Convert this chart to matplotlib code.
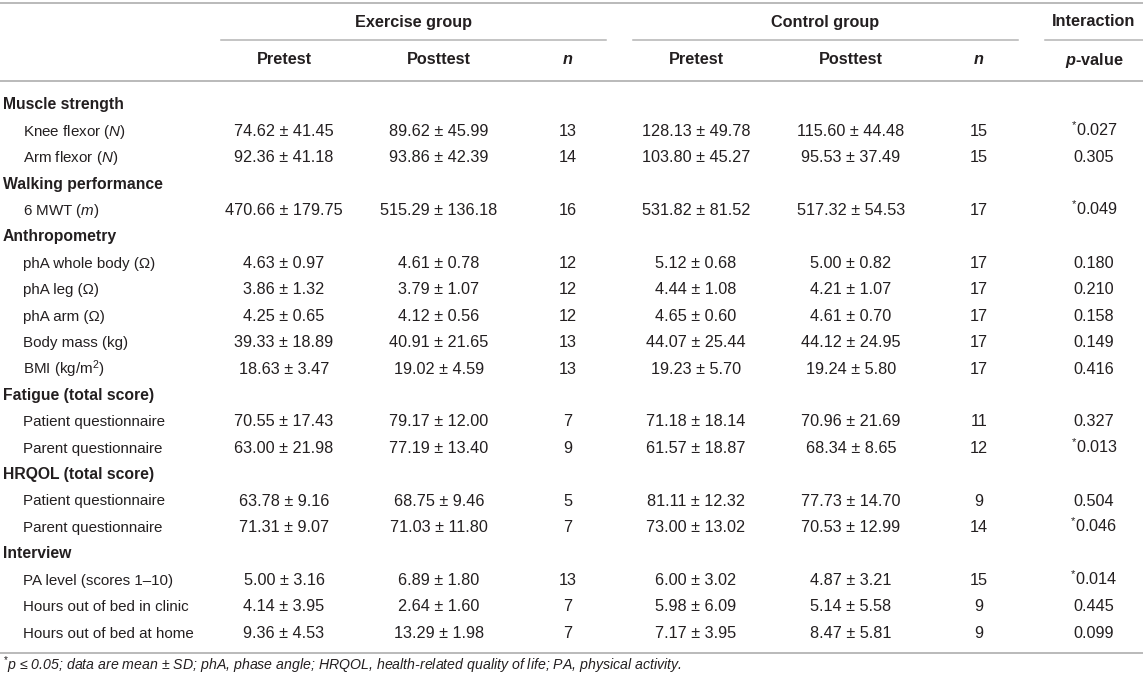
import matplotlib
matplotlib.use("Agg")
import matplotlib.pyplot as plt

# ============================
# Table Data
# ============================

sections = [
    "Muscle strength",
    "Walking performance",
    "Anthropometry",
    "Fatigue (total score)",
    "HRQOL (total score)",
    "Interview",
]

section_sizes = [2, 1, 5, 2, 2, 3]

labels = [
    r"Knee flexor ($\mathit{N}$)",
    r"Arm flexor ($\mathit{N}$)",
    r"6 MWT ($\mathit{m}$)",
    "phA whole body (Ω)",
    "phA leg (Ω)",
    "phA arm (Ω)",
    "Body mass (kg)",
    r"BMI (kg/m$^{2}$)",
    "Patient questionnaire",
    "Parent questionnaire",
    "Patient questionnaire",
    "Parent questionnaire",
    "PA level (scores 1–10)",
    "Hours out of bed in clinic",
    "Hours out of bed at home",
]

ex_pre_mean = [74.62, 92.36, 470.66, 4.63, 3.86, 4.25, 39.33, 18.63, 70.55, 63.00, 63.78, 71.31, 5.00, 4.14, 9.36]
ex_pre_sd = [41.45, 41.18, 179.75, 0.97, 1.32, 0.65, 18.89, 3.47, 17.43, 21.98, 9.16, 9.07, 3.16, 3.95, 4.53]
ex_post_mean = [89.62, 93.86, 515.29, 4.61, 3.79, 4.12, 40.91, 19.02, 79.17, 77.19, 68.75, 71.03, 6.89, 2.64, 13.29]
ex_post_sd = [45.99, 42.39, 136.18, 0.78, 1.07, 0.56, 21.65, 4.59, 12.00, 13.40, 9.46, 11.80, 1.80, 1.60, 1.98]
ex_n = [13, 14, 16, 12, 12, 12, 13, 13, 7, 9, 5, 7, 13, 7, 7]

ct_pre_mean = [128.13, 103.80, 531.82, 5.12, 4.44, 4.65, 44.07, 19.23, 71.18, 61.57, 81.11, 73.00, 6.00, 5.98, 7.17]
ct_pre_sd = [49.78, 45.27, 81.52, 0.68, 1.08, 0.60, 25.44, 5.70, 18.14, 18.87, 12.32, 13.02, 3.02, 6.09, 3.95]
ct_post_mean = [115.60, 95.53, 517.32, 5.00, 4.21, 4.61, 44.12, 19.24, 70.96, 68.34, 77.73, 70.53, 4.87, 5.14, 8.47]
ct_post_sd = [44.48, 37.49, 54.53, 0.82, 1.07, 0.70, 24.95, 5.80, 21.69, 8.65, 14.70, 12.99, 3.21, 5.58, 5.81]
ct_n = [15, 15, 17, 17, 17, 17, 17, 17, 11, 12, 9, 14, 15, 9, 9]

p_values = [0.027, 0.305, 0.049, 0.180, 0.210, 0.158, 0.149, 0.416, 0.327, 0.013, 0.504, 0.046, 0.014, 0.445, 0.099]

footnote = (r"${}^{*}$" + "p ≤ 0.05; data are mean ± SD; phA, phase angle; "
            "HRQOL, health-related quality of life; PA, physical activity.")

# ============================
# Style
# ============================

plt.rcParams["font.family"] = ["Liberation Sans", "DejaVu Sans"]
plt.rcParams["mathtext.fontset"] = "custom"
plt.rcParams["mathtext.rm"] = "Liberation Sans"
plt.rcParams["mathtext.it"] = "Liberation Sans:italic"
plt.rcParams["mathtext.bf"] = "Liberation Sans:bold"
plt.rcParams["mathtext.bfit"] = "Liberation Sans:italic:bold"

text_color = "#231f20"
line_color = "#b4b4b4"
fs = 11.7        # numbers and column headers
fs_label = 10.9  # row labels
fs_sec = 11.3    # section headers
base = 5.5       # baseline offset from row centre, px

W, H = 1143, 680
fig = plt.figure(figsize=(W / 100, H / 100), dpi=100)
ax = fig.add_axes([0, 0, 1, 1])
ax.set_xlim(0, W)
ax.set_ylim(H, 0)
ax.axis("off")

# column centres
x_sec, x_item = 3, 23
col_x = [284, 439, 568, 696, 851, 979, 1094]


def cell(x, y, s, ha="center", size=fs, **kw):
    ax.text(x, y + base, s, ha=ha, va="baseline", fontsize=size,
            color=text_color, **kw)


# ============================
# Header
# ============================

ax.axhline(3, color=line_color, lw=1.3)
ax.axhline(81, color=line_color, lw=1.3)

groups = [("Exercise group", 221, 606), ("Control group", 633, 1018), ("Interaction", 1045, 1143)]
for name, x0, x1 in groups:
    cell((x0 + x1) / 2, 21, name, fontweight="bold")
    ax.plot([x0, x1], [40, 40], color=line_color, lw=1.1)

subheads = ["Pretest", "Posttest", r"$\mathbfit{n}$",
            "Pretest", "Posttest", r"$\mathbfit{n}$", r"$\mathbfit{p}$-value"]
for x, s in zip(col_x, subheads):
    cell(x, 59, s, fontweight="bold")

# ============================
# Body
# ============================

y0, dy = 104, 26.4
row = 0
k = 0
for sec, size in zip(sections, section_sizes):
    cell(x_sec, y0 + dy * row, sec, ha="left", size=fs_sec, fontweight="bold")
    row += 1
    for _ in range(size):
        y = y0 + dy * row
        p = p_values[k]
        p_txt = (r"${}^{*}$" if p <= 0.05 else "") + f"{p:.3f}"
        cells = [
            f"{ex_pre_mean[k]:.2f} ± {ex_pre_sd[k]:.2f}",
            f"{ex_post_mean[k]:.2f} ± {ex_post_sd[k]:.2f}",
            str(ex_n[k]),
            f"{ct_pre_mean[k]:.2f} ± {ct_pre_sd[k]:.2f}",
            f"{ct_post_mean[k]:.2f} ± {ct_post_sd[k]:.2f}",
            str(ct_n[k]),
            p_txt,
        ]
        cell(x_item, y, labels[k], ha="left", size=fs_label)
        for x, c in zip(col_x, cells):
            cell(x, y, c)
        row += 1
        k += 1

ax.axhline(653, color=line_color, lw=1.3)

ax.text(3, 666 + 4.5, footnote, ha="left", va="baseline", fontsize=10.2,
        style="italic", color=text_color)

fig.savefig("out.png", dpi=100)
